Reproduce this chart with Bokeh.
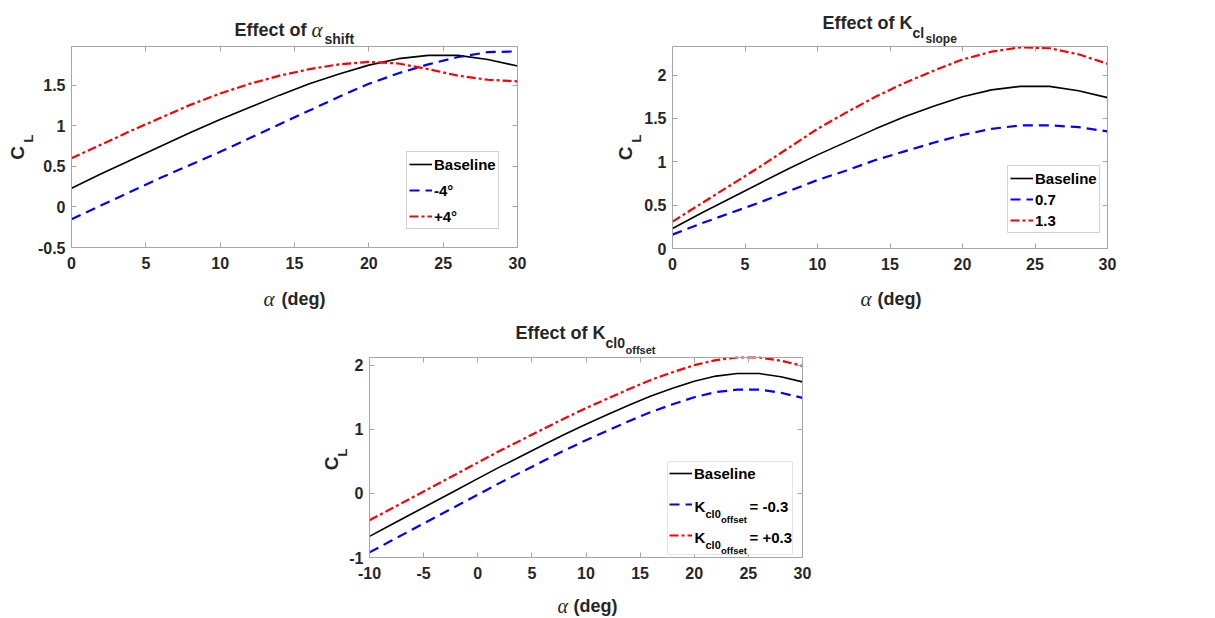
import math
from bokeh.plotting import figure
from bokeh.layouts import column, row
from bokeh.models import (Range1d, FixedTicker, LinearAxis, Label, Legend, LegendItem,
                          BoxAnnotation, Spacer)
from bokeh.embed import file_html
from bokeh.resources import INLINE

# ---------------- data ----------------
alpha_top = [0, 2, 4, 6, 8, 10, 12, 14, 16, 18, 20, 22, 24, 26, 28, 30]
alpha_bot = [-10, -8, -6, -4, -2, 0, 2, 4, 6, 8, 10, 12, 14, 16, 18, 20, 22, 24, 26, 28, 30]

baseline_full = [-0.67, -0.49, -0.31, -0.13, 0.05, 0.23, 0.41, 0.58, 0.75, 0.92, 1.08,
                 1.23, 1.38, 1.52, 1.64, 1.75, 1.83, 1.87, 1.87, 1.82, 1.74]
baseline_top = [0.23, 0.41, 0.58, 0.75, 0.92, 1.08, 1.23, 1.38, 1.52, 1.64, 1.75,
                1.83, 1.87, 1.87, 1.82, 1.74]

shift_minus4 = [-0.15, 0.02, 0.19, 0.36, 0.52, 0.68, 0.85, 1.02, 1.19, 1.36, 1.52,
                1.65, 1.76, 1.85, 1.91, 1.92]
shift_plus4 = [0.60, 0.77, 0.94, 1.10, 1.26, 1.40, 1.52, 1.62, 1.70, 1.76, 1.79,
               1.77, 1.70, 1.62, 1.57, 1.55]

slope_07 = [0.16, 0.29, 0.41, 0.53, 0.66, 0.79, 0.90, 1.02, 1.12, 1.22, 1.31,
            1.38, 1.42, 1.42, 1.40, 1.35]
slope_13 = [0.31, 0.52, 0.73, 0.94, 1.16, 1.38, 1.57, 1.75, 1.91, 2.05, 2.18,
            2.27, 2.32, 2.31, 2.24, 2.13]

offset_minus = [-0.92, -0.74, -0.56, -0.38, -0.20, -0.02, 0.16, 0.33, 0.50, 0.67, 0.83,
                0.98, 1.13, 1.27, 1.39, 1.50, 1.58, 1.62, 1.62, 1.57, 1.49]
offset_plus = [-0.42, -0.24, -0.06, 0.12, 0.30, 0.48, 0.66, 0.83, 1.00, 1.17, 1.33,
               1.48, 1.63, 1.77, 1.89, 2.00, 2.08, 2.12, 2.12, 2.07, 1.99]

xticks_top = [0, 5, 10, 15, 20, 25, 30]
xticks_top_labels = ["0", "5", "10", "15", "20", "25", "30"]
xticks_bot = [-10, -5, 0, 5, 10, 15, 20, 25, 30]
xticks_bot_labels = ["-10", "-5", "0", "5", "10", "15", "20", "25", "30"]
yticks_1 = [-0.5, 0, 0.5, 1, 1.5]
yticks_1_labels = ["-0.5", "0", "0.5", "1", "1.5"]
yticks_2 = [0, 0.5, 1, 1.5, 2]
yticks_2_labels = ["0", "0.5", "1", "1.5", "2"]
yticks_3 = [-1, 0, 1, 2]
yticks_3_labels = ["-1", "0", "1", "2"]

legend_1 = ["Baseline", "-4°", "+4°"]
legend_2 = ["Baseline", "0.7", "1.3"]

# ---------------- styling ----------------
SANS = "Liberation Sans"
SERIF = "Liberation Serif"
AX = "#a6a6a6"
TXT = "#262626"
BLUE_DASH = "10 6"
RED_DASHDOT = "9 3 3 3"


class Panel:
    """A figure whose frame covers the whole canvas; the axes box is drawn with
    fixed-location axes so that titles and labels around it are not clipped."""

    def __init__(self, W, H, box, xr, yr, xt, xtl, yt, ytl):
        l, t, r, b = box
        self.W, self.H, self.l, self.t, self.r, self.b = W, H, l, t, r, b
        x0, x1 = xr
        y0, y1 = yr
        sx = (x1 - x0) / (r - l)
        sy = (y1 - y0) / (b - t)
        p = figure(width=W, height=H, title=None,
                   x_range=Range1d(x0 - l * sx, x1 + (W - r) * sx),
                   y_range=Range1d(y0 - (H - b) * sy, y1 + t * sy),
                   output_backend="svg", toolbar_location=None,
                   min_border=0, min_border_left=0, min_border_right=0,
                   min_border_top=0, min_border_bottom=0)
        p.xgrid.visible = False
        p.ygrid.visible = False
        p.outline_line_color = None
        p.background_fill_color = "white"
        p.border_fill_color = "white"

        def style(ax, ticks, labels, loc, bounds, show_labels):
            ax.ticker = FixedTicker(ticks=ticks)
            ax.major_label_overrides = {tk: lb for tk, lb in zip(ticks, labels)}
            ax.fixed_location = loc
            ax.bounds = bounds
            ax.minor_tick_line_color = None
            ax.major_tick_in = 5
            ax.major_tick_out = 0
            ax.major_tick_line_color = AX
            ax.axis_line_color = AX
            ax.axis_line_width = 1
            ax.major_label_text_font = SANS
            ax.major_label_text_font_style = "bold"
            ax.major_label_text_font_size = "16px"
            ax.major_label_text_color = TXT if show_labels else None

        style(p.xaxis[0], xt, xtl, y0, (x0, x1), True)
        style(p.yaxis[0], yt, ytl, x0, (y0, y1), True)
        p.xaxis[0].major_label_standoff = 9
        p.yaxis[0].major_label_standoff = 6
        top_ax = LinearAxis()
        right_ax = LinearAxis()
        style(top_ax, xt, xtl, y1, (x0, x1), False)
        style(right_ax, yt, ytl, x1, (y0, y1), False)
        p.add_layout(top_ax, "above")
        p.add_layout(right_ax, "right")
        self.p = p

    # coordinates below are in pixels relative to the box's bottom-left corner
    def sx(self, fx):
        return self.l + fx

    def sy(self, fy):
        return (self.H - self.b) + fy

    def lab(self, fx, fy, text, size, align="left", base="alphabetic", font=SANS,
            style="bold", angle=0.0, color=TXT):
        self.p.add_layout(Label(x=self.sx(fx), y=self.sy(fy), x_units="screen", y_units="screen",
                                text=text, text_font=font, text_font_size=size,
                                text_font_style=style, text_align=align, text_baseline=base,
                                angle=angle, text_color=color))

    def lines(self, x, base, blue, red):
        p = self.p
        r0 = p.line(x, base, line_color="black", line_width=1.6)
        r1 = p.line(x, blue, line_color="#0000ff", line_width=2.2, line_dash=BLUE_DASH)
        r2 = p.line(x, red, line_color="#ff0000", line_width=2.2, line_dash=RED_DASHDOT)
        return r0, r1, r2

    def legend(self, labels, rends, fx, fy, **kw):
        base = dict(label_text_font=SANS, label_text_font_style="bold",
                    label_text_font_size="15px", label_text_color="black",
                    glyph_width=23, glyph_height=20, label_height=20,
                    label_standoff=2, padding=2, margin=0, border_line_color=AX,
                    border_line_width=1, background_fill_color="white",
                    background_fill_alpha=1)
        base.update(kw)
        items = [LegendItem(label=t, renderers=[rr]) for t, rr in zip(labels, rends)]
        self.p.add_layout(Legend(items=items, location=(self.sx(fx), self.sy(fy)), **base))


# ---------------- plot 1: alpha shift ----------------
a = Panel(600, 310, (71, 46, 517, 247), (0, 30), (-0.5, 1.98),
          xticks_top, xticks_top_labels, yticks_1, yticks_1_labels)
r = a.lines(alpha_top, baseline_top, shift_minus4, shift_plus4)
a.legend(legend_1, r, 335, 18, spacing=6)
a.lab(235, 218, "Effect of", "18px", align="right")
a.lab(240, 218, "α", "21px", font=SERIF, style="italic")
a.lab(253, 209, "shift", "14px")
a.lab(192, -51, "α", "21px", font=SERIF, style="italic")
a.lab(210, -51, "(deg)", "18px")
a.lab(-54, 94.5, "C", "19px", align="center", base="middle", angle=math.pi / 2)
a.lab(-43, 109, "L", "13px", align="center", base="middle", angle=math.pi / 2)

# ---------------- plot 2: slope ----------------
b = Panel(615, 310, (72, 46, 507, 248), (0, 30), (0, 2.33),
          xticks_top, xticks_top_labels, yticks_2, yticks_2_labels)
r = b.lines(alpha_top, baseline_top, slope_07, slope_13)
b.legend(legend_2, r, 335, 15, spacing=1)
b.lab(240, 226, "Effect of K", "18px", align="right")
b.lab(240, 216, "cl", "14px")
b.lab(253, 209.5, "slope", "12px")
b.lab(188, -50, "α", "21px", font=SERIF, style="italic")
b.lab(205, -50, "(deg)", "18px")
b.lab(-47, 95, "C", "19px", align="center", base="middle", angle=math.pi / 2)
b.lab(-36, 110, "L", "13px", align="center", base="middle", angle=math.pi / 2)

# ---------------- plot 3: cl0 offset ----------------
c = Panel(615, 308, (69, 47, 502, 247), (-10, 30), (-1, 2.12),
          xticks_bot, xticks_bot_labels, yticks_3, yticks_3_labels)
r = c.lines(alpha_bot, baseline_full, offset_minus, offset_plus)
c.p.add_layout(BoxAnnotation(left=c.sx(298), right=c.sx(423), bottom=c.sy(3), top=c.sy(96),
                             left_units="screen", right_units="screen",
                             bottom_units="screen", top_units="screen",
                             fill_color="white", fill_alpha=1, line_color=AX, line_width=1))
c.legend(["Baseline", " ", " "], r, 298, 10, spacing=11, label_width=60,
         border_line_alpha=0, background_fill_alpha=0)
for yk, sign in ((51, "= -0.3"), (20, "= +0.3")):
    c.lab(325, yk, "K", "15px", color="black")
    c.lab(336, yk - 7, "cl0", "11px", color="black")
    c.lab(351.5, yk - 13, "offset", "9.5px", color="black")
    c.lab(380, yk, sign, "15px", color="black")
c.lab(236, 225, "Effect of K", "18px", align="right")
c.lab(236, 215, "cl0", "14px")
c.lab(256, 208, "offset", "11px")
c.lab(188, -48, "α", "20px", font=SERIF, style="italic")
c.lab(204, -48, "(deg)", "18px")
c.lab(-38, 94, "C", "19px", align="center", base="middle", angle=math.pi / 2)
c.lab(-27, 105, "L", "13px", align="center", base="middle", angle=math.pi / 2)

layout = column(row(a.p, b.p), row(Spacer(width=300, height=308), c.p))
open("out.html", "w").write(file_html(layout, INLINE))
